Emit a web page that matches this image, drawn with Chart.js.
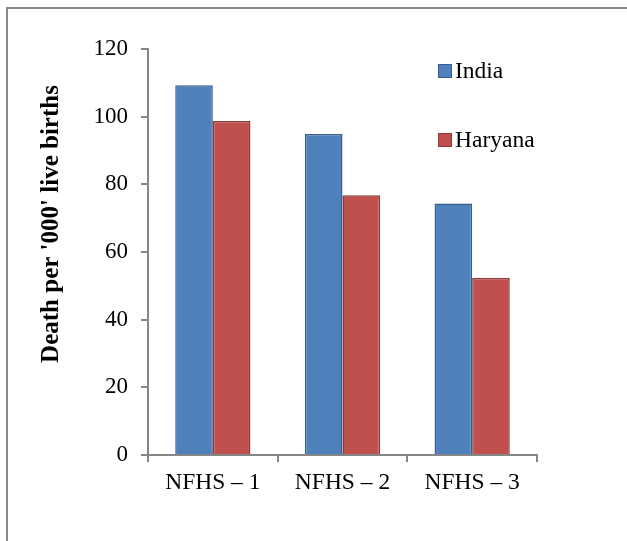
<!DOCTYPE html>
<html>
<head>
<meta charset="utf-8">
<script src="https://cdn.jsdelivr.net/npm/chart.js@4/dist/chart.umd.min.js"></script>
<style>
  html, body { margin: 0; padding: 0; background: #fff; overflow: hidden; }
  #wrap { width: 627px; height: 541px; }
  canvas { display: block; }
</style>
</head>
<body>
<div id="wrap"><canvas id="chart" width="627" height="541"></canvas></div>
<script>
const categories = ['NFHS – 1', 'NFHS – 2', 'NFHS – 3'];
const india = [109.3, 94.9, 74.3];
const haryana = [98.7, 76.8, 52.3];
const yTicks = [0, 20, 40, 60, 80, 100, 120];

const serif = '"Liberation Serif", "Times New Roman", serif';
const axisGray = '#868686';

// gray frame: only its top and left edges fall inside the picture
const framePlugin = {
  id: 'frame',
  beforeDraw(chart) {
    const c = chart.ctx;
    c.save();
    c.fillStyle = '#fff';
    c.fillRect(0, 0, chart.width, chart.height);
    c.strokeStyle = '#8a8a8a';
    c.lineWidth = 2;
    c.beginPath();
    c.moveTo(7, chart.height);
    c.lineTo(7, 8);
    c.lineTo(chart.width, 8);
    c.stroke();
    c.restore();
  }
};

// y title sits a bit above the axis middle, so it is drawn by hand
const titlePlugin = {
  id: 'ytitle',
  afterDraw(chart) {
    const c = chart.ctx;
    c.save();
    c.translate(52, 224);
    c.rotate(-Math.PI / 2);
    c.font = 'bold 25px ' + serif;
    c.fillStyle = '#000';
    c.textAlign = 'center';
    c.textBaseline = 'middle';
    c.fillText("Death per '000' live births", 0, 0);
    c.restore();
  }
};

const legendPlugin = {
  id: 'sideLegend',
  afterDraw(chart) {
    const c = chart.ctx;
    const rows = [71, 140];
    c.save();
    c.font = '23.5px ' + serif;
    c.textBaseline = 'middle';
    chart.data.datasets.forEach((ds, i) => {
      const y = rows[i];
      c.fillStyle = ds.backgroundColor;
      c.fillRect(438, y - 7, 14, 14);
      c.strokeStyle = ds.borderColor;
      c.lineWidth = 1;
      c.strokeRect(438.5, y - 6.5, 13, 13);
      c.fillStyle = '#000';
      c.fillText(ds.label, 455, y + 1);
    });
    c.restore();
  }
};

new Chart(document.getElementById('chart'), {
  type: 'bar',
  data: {
    labels: categories,
    datasets: [
      {
        label: 'India',
        data: india,
        backgroundColor: '#4F81BD',
        borderColor: '#385D8A',
        borderWidth: 1.5
      },
      {
        label: 'Haryana',
        data: haryana,
        backgroundColor: '#C0504D',
        borderColor: '#8C3836',
        borderWidth: 1.5
      }
    ]
  },
  options: {
    responsive: false,
    animation: false,
    layout: { padding: { left: 0, right: 90, top: 49, bottom: 0 } },
    datasets: {
      bar: { categoryPercentage: 0.58, barPercentage: 1.0 }
    },
    plugins: {
      legend: { display: false },
      tooltip: { enabled: false }
    },
    scales: {
      x: {
        grid: {
          display: true,
          drawOnChartArea: false,
          offset: true,
          tickLength: 7,
          color: axisGray,
          lineWidth: 2
        },
        border: { color: axisGray, width: 2 },
        ticks: {
          color: '#000',
          font: { family: serif, size: 23.5 },
          padding: 7
        },
        afterFit(s) { s.height = 86; }
      },
      y: {
        min: 0,
        max: 120,
        afterBuildTicks(s) { s.ticks = yTicks.map(v => ({ value: v })); },
        grid: {
          display: true,
          drawOnChartArea: false,
          tickLength: 7,
          color: axisGray,
          lineWidth: 2
        },
        border: { color: axisGray, width: 2 },
        ticks: {
          color: '#000',
          font: { family: serif, size: 23 },
          padding: 13
        },
        afterFit(s) { s.width = 148; }
      }
    }
  },
  plugins: [framePlugin, titlePlugin, legendPlugin]
});
</script>
</body>
</html>
